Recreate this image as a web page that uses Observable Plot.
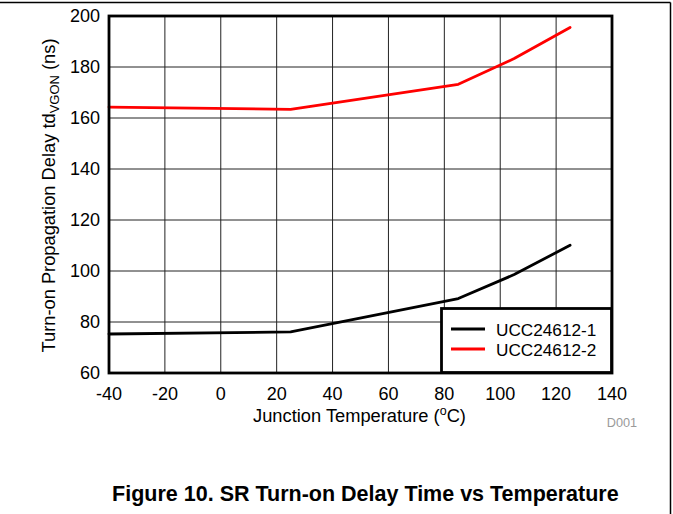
<!DOCTYPE html>
<html>
<head>
<meta charset="utf-8">
<script src="https://cdn.jsdelivr.net/npm/d3@7"></script>
<script src="https://cdn.jsdelivr.net/npm/@observablehq/plot@0.6"></script>
<style>
  html, body { margin: 0; padding: 0; background: #fff; }
  #chart svg { display: block; }
</style>
</head>
<body>
<div id="chart"></div>
<script>
const temps = [-40, 25, 85, 105, 125];
const ucc1 = [75.3, 76.1, 89.2, 98.6, 110.1];
const ucc2 = [164.3, 163.4, 173.2, 183.3, 195.5];
const seriesNames = ["UCC24612-1", "UCC24612-2"];
const seriesColors = ["#000000", "#ff0000"];
const xTicks = [-40, -20, 0, 20, 40, 60, 80, 100, 120, 140];
const yTicks = [60, 80, 100, 120, 140, 160, 180, 200];

const rows = [];
[ucc1, ucc2].forEach((vals, i) => {
  vals.forEach((v, j) => rows.push({series: seriesNames[i], t: temps[j], d: v}));
});

const FONT = "'Liberation Sans', Arial, Helvetica, sans-serif";
const W = 673, H = 514;

const plot = Plot.plot({
  width: W,
  height: H,
  marginLeft: 108.5,
  marginRight: 61.5,
  marginTop: 15.5,
  marginBottom: 141.5,
  style: {fontFamily: FONT, fontSize: "18px", background: "#fff", color: "#000"},
  x: {domain: [-40, 140], ticks: xTicks, label: null},
  y: {domain: [60, 200], ticks: yTicks, label: null},
  color: {domain: seriesNames, range: seriesColors},
  marks: [
    Plot.gridX(xTicks, {stroke: "#222", strokeOpacity: 1, strokeWidth: 1}),
    Plot.gridY(yTicks, {stroke: "#222", strokeOpacity: 1, strokeWidth: 1}),
    Plot.line(rows, {x: "t", y: "d", z: "series", stroke: "series", strokeWidth: 2.8}),
    Plot.frame({stroke: "#000", strokeWidth: 2.8}),
    Plot.axisX({ticks: xTicks, tickSize: 0, tickPadding: 14, fontSize: 18, label: null, tickFormat: d => String(d)}),
    Plot.axisY({ticks: yTicks, tickSize: 0, tickPadding: 9, fontSize: 18, label: null, tickFormat: d => String(d)})
  ]
});

document.getElementById("chart").appendChild(plot);
const svg = d3.select(plot);
const xs = plot.scale("x"), ys = plot.scale("y");
const pLeft = xs.range[0], pRight = xs.range[1];
const pTop = ys.range[1], pBottom = ys.range[0];

// Y axis label with subscript
const yl = svg.append("text")
  .attr("transform", `translate(55,195.5) rotate(-90)`)
  .attr("text-anchor", "middle")
  .attr("font-family", FONT)
  .attr("font-size", 18.3)
  .attr("fill", "#000");
yl.append("tspan").text("Turn-on Propagation Delay td");
yl.append("tspan").attr("font-size", 13).attr("dy", 4).text("VGON");
yl.append("tspan").attr("dy", -4).text(" (ns)");

// X axis label with superscript
const xl = svg.append("text")
  .attr("x", 359.5)
  .attr("y", 421.5)
  .attr("text-anchor", "middle")
  .attr("font-family", FONT)
  .attr("font-size", 18.3)
  .attr("fill", "#000");
xl.append("tspan").text("Junction Temperature (");
xl.append("tspan").attr("font-size", 12.5).attr("dy", -7).text("o");
xl.append("tspan").attr("dy", 7).text("C)");

// D001 tag
svg.append("text")
  .attr("x", 622).attr("y", 426.7)
  .attr("text-anchor", "middle")
  .attr("font-family", FONT)
  .attr("font-size", 12.7)
  .attr("fill", "#9a9a9a")
  .text("D001");

// Legend box
const lgX = 441.5, lgY = 308.5;
const lg = svg.append("g");
lg.append("rect")
  .attr("x", lgX).attr("y", lgY)
  .attr("width", pRight - lgX).attr("height", pBottom - lgY)
  .attr("fill", "#fff").attr("stroke", "#000").attr("stroke-width", 2.8);
seriesNames.forEach((name, i) => {
  const yy = 329 + i * 20;
  lg.append("line")
    .attr("x1", 451).attr("x2", 485).attr("y1", yy).attr("y2", yy)
    .attr("stroke", seriesColors[i]).attr("stroke-width", 2.8);
  lg.append("text")
    .attr("x", 496).attr("y", yy + 7)
    .attr("text-anchor", "start")
    .attr("font-family", FONT).attr("font-size", 17.2).attr("fill", "#000")
    .text(name);
});

// Caption
svg.append("text")
  .attr("x", 365.4).attr("y", 501)
  .attr("text-anchor", "middle")
  .attr("font-family", FONT)
  .attr("font-size", 21.5)
  .attr("font-weight", "bold")
  .attr("fill", "#000")
  .text("Figure 10. SR Turn-on Delay Time vs Temperature");

// Page border lines (top and right)
svg.append("line").attr("x1", 0).attr("x2", 670.5).attr("y1", 2.5).attr("y2", 2.5)
  .attr("stroke", "#000").attr("stroke-width", 1.5);
svg.append("line").attr("x1", 670.5).attr("x2", 670.5).attr("y1", 2.5).attr("y2", H)
  .attr("stroke", "#000").attr("stroke-width", 1.5);
</script>
</body>
</html>
